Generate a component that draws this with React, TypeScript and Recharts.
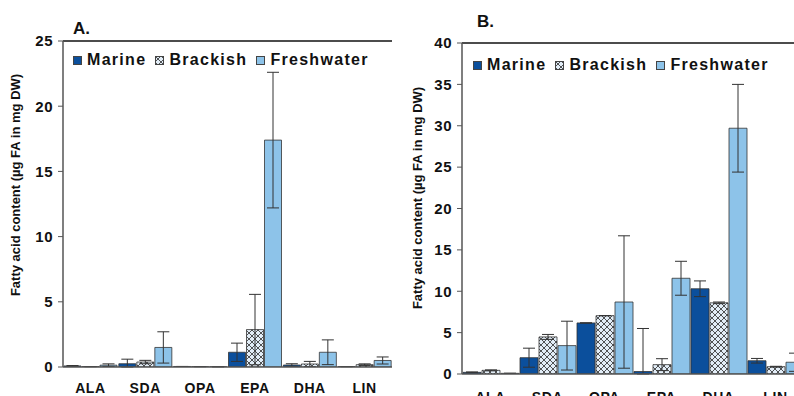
import React from 'react';
import { BarChart, Bar, XAxis, YAxis, ErrorBar, Legend, ReferenceLine } from 'recharts';

const acids = ['ALA', 'SDA', 'OPA', 'EPA', 'DHA', 'LIN'];
const seriesNames = ['Marine', 'Brackish', 'Freshwater'];

// panel A (values and standard deviations)
const marineA = [0.08, 0.25, 0.04, 1.13, 0.15, 0.03];
const marineSdA = [0.03, 0.35, 0, 0.7, 0.1, 0];
const brackishA = [0.03, 0.38, 0.03, 2.87, 0.23, 0.18];
const brackishSdA = [0, 0.13, 0, 2.7, 0.2, 0.06];
const freshA = [0.14, 1.5, 0.02, 17.4, 1.13, 0.5];
const freshSdA = [0.1, 1.2, 0, 5.2, 0.95, 0.27];

// panel B
const marineB = [0.2, 1.97, 6.17, 0.3, 10.3, 1.6];
const marineSdB = [0.05, 1.15, 0, 5.2, 0.95, 0.28];
const brackishB = [0.44, 4.48, 7.05, 1.13, 8.6, 0.88];
const brackishSdB = [0.06, 0.3, 0, 0.72, 0.1, 0.05];
const freshB = [0.08, 3.43, 8.7, 11.57, 29.7, 1.42];
const freshSdB = [0, 2.95, 8.0, 2.05, 5.3, 1.1];

const ticksA = [0, 5, 10, 15, 20, 25];
const ticksB = [0, 5, 10, 15, 20, 25, 30, 35, 40];

const FONT = '"Liberation Sans", Arial, sans-serif';
const MARINE = '#0b4f9c';
const FRESH = '#8dc3e9';

const err = (v: number, sd: number) => [Math.min(v, sd), sd];

const buildRows = (m: number[], ms: number[], b: number[], bs: number[], f: number[], fs: number[]) =>
  acids.map((acid, i) => ({
    acid,
    marine: m[i],
    marineErr: err(m[i], ms[i]),
    brackish: b[i],
    brackishErr: err(b[i], bs[i]),
    fresh: f[i],
    freshErr: err(f[i], fs[i]),
  }));

const rowsA = buildRows(marineA, marineSdA, brackishA, brackishSdA, freshA, freshSdA);
const rowsB = buildRows(marineB, marineSdB, brackishB, brackishSdB, freshB, freshSdB);

const makeLegend = (hatchId: string) => () => {
  const fills = [MARINE, `url(#${hatchId})`, FRESH];
  return (
    <div
      style={{
        display: 'flex',
        alignItems: 'center',
        fontFamily: FONT,
        fontWeight: 700,
        fontSize: 16,
        letterSpacing: 1.3,
        color: '#111',
        whiteSpace: 'nowrap',
      }}
    >
      {seriesNames.map((name, i) => (
        <span key={name} style={{ display: 'flex', alignItems: 'center', marginRight: 9 }}>
          <svg width={9} height={9} style={{ marginRight: 5 }}>
            <rect x={0.5} y={0.5} width={8} height={8} fill={fills[i]} stroke="#444" strokeWidth={1} />
          </svg>
          {name}
        </span>
      ))}
    </div>
  );
};

const Hatch = ({ id }: { id: string }) => (
  <defs>
    <pattern id={id} patternUnits="userSpaceOnUse" width={6} height={6}>
      <rect width={6} height={6} fill="#e2edf7" />
      <path d="M0,0 L6,6 M6,0 L0,6" stroke="#2b2b2b" strokeWidth={0.8} />
    </pattern>
  </defs>
);

interface PanelProps {
  rows: any[];
  ticks: number[];
  max: number;
  width: number;
  margin: { top: number; right: number; left: number; bottom: number };
  yWidth: number;
  xHeight: number;
  xMargin: number;
  hatchId: string;
  legendPos: { top: number; left: number };
}

const Panel = ({ rows, ticks, max, width, margin, yWidth, xHeight, xMargin, hatchId, legendPos }: PanelProps) => (
  <BarChart width={width} height={396} data={rows} margin={margin} barCategoryGap={1} barGap={1}>
    <Hatch id={hatchId} />
    <XAxis
      dataKey="acid"
      height={xHeight}
      tickLine={false}
      tickMargin={xMargin}
      axisLine={{ stroke: '#555', strokeWidth: 1.5 }}
      tick={{ fill: '#111', fontSize: 14, fontWeight: 700, fontFamily: FONT, letterSpacing: 0.6 }}
      interval={0}
    />
    <YAxis
      domain={[0, max]}
      ticks={ticks}
      width={yWidth}
      tickSize={5}
      tickMargin={5}
      allowDataOverflow
      axisLine={{ stroke: '#555', strokeWidth: 1.5 }}
      tickLine={{ stroke: '#555' }}
      tick={{ fill: '#111', fontSize: 15, fontWeight: 700, fontFamily: FONT, letterSpacing: 0.5 }}
    />
    <YAxis
      yAxisId="frame"
      orientation="right"
      domain={[0, max]}
      width={0}
      tick={false}
      tickLine={false}
      axisLine={{ stroke: '#111', strokeWidth: 1.5 }}
    />
    <ReferenceLine y={max} stroke="#111" strokeWidth={1.5} />
    <Legend
      layout="horizontal"
      verticalAlign="middle"
      align="center"
      content={makeLegend(hatchId)}
      wrapperStyle={{ top: legendPos.top, left: legendPos.left, width: 'auto' }}
    />
    <Bar dataKey="marine" name="Marine" fill={MARINE} stroke="#333" strokeWidth={0.8} isAnimationActive={false}>
      <ErrorBar dataKey="marineErr" width={6} stroke="#333" strokeWidth={1} />
    </Bar>
    <Bar dataKey="brackish" name="Brackish" fill={`url(#${hatchId})`} stroke="#333" strokeWidth={0.8} isAnimationActive={false}>
      <ErrorBar dataKey="brackishErr" width={6} stroke="#333" strokeWidth={1} />
    </Bar>
    <Bar dataKey="fresh" name="Freshwater" fill={FRESH} stroke="#333" strokeWidth={0.8} isAnimationActive={false}>
      <ErrorBar dataKey="freshErr" width={6} stroke="#333" strokeWidth={1} />
    </Bar>
  </BarChart>
);

const yLabel = 'Fatty acid content (µg FA in mg DW)';

export default function App() {
  return (
    <div
      style={{
        position: 'absolute',
        left: 0,
        top: 0,
        width: 794,
        height: 396,
        overflow: 'hidden',
        background: '#fff',
      }}
    >
      <div style={{ position: 'absolute', left: 0, top: 0 }}>
        <Panel
          rows={rowsA}
          ticks={ticksA}
          max={25}
          width={400}
          margin={{ top: 41, right: 8, left: 0, bottom: 0 }}
          yWidth={63}
          xHeight={29}
          xMargin={10}
          hatchId="hatchA"
          legendPos={{ top: 51, left: 73 }}
        />
      </div>
      <div style={{ position: 'absolute', left: 400, top: 0 }}>
        <Panel
          rows={rowsB}
          ticks={ticksB}
          max={40}
          width={410}
          margin={{ top: 43, right: 6, left: 0, bottom: 0 }}
          yWidth={62}
          xHeight={22}
          xMargin={12}
          hatchId="hatchB"
          legendPos={{ top: 56, left: 73 }}
        />
      </div>
      <svg
        width={794}
        height={396}
        style={{ position: 'absolute', left: 0, top: 0, pointerEvents: 'none' }}
        fontFamily={FONT}
        fontWeight={700}
        fill="#111"
      >
        <text x={73} y={34} fontSize={17}>A.</text>
        <text x={477} y={27} fontSize={17}>B.</text>
        <text x={0} y={0} fontSize={13} textAnchor="middle" transform="translate(20,185) rotate(-90)">
          {yLabel}
        </text>
        <text x={0} y={0} fontSize={13} textAnchor="middle" transform="translate(422,198) rotate(-90)">
          {yLabel}
        </text>
      </svg>
    </div>
  );
}
